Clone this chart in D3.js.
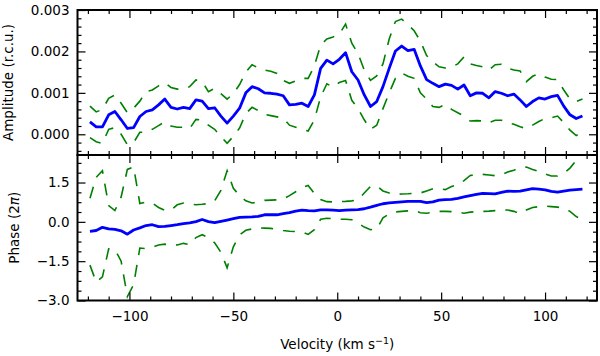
<!DOCTYPE html>
<html>
<head>
<meta charset="utf-8">
<script src="https://cdn.jsdelivr.net/npm/d3@7"></script>
<style>
  body { margin: 0; background: #fff; }
  svg text { font-family: "DejaVu Sans", sans-serif; fill: #000; }
</style>
</head>
<body>
<script>
// velocity grid (km/s)
var velocity = [
  -119,-116,-113,-110,-107,-104,-101,-98,-95,-92,
  -89,-86,-83,-80,-77,-74,-71,-68,-65,-62,
  -59,-56,-53,-50,-47,-44,-41,-38,-35,-32,
  -29,-26,-23,-20,-17,-14,-11,-8,-5,-2,
  1,4,7,10,13,16,19,22,25,28,
  31,34,37,40,43,46,49,52,55,58,
  61,64,67,70,73,76,79,82,85,88,
  91,94,97,100,103,106,109,112,115,118
];

// amplitude, in units of 0.001 r.c.u.
var amplitude = [
  0.30,0.18,0.18,0.47,0.55,0.35,0.14,0.16,0.43,0.55,
  0.59,0.71,0.85,0.65,0.61,0.65,0.62,0.83,0.80,0.62,
  0.64,0.44,0.27,0.44,0.63,1.00,1.15,1.10,1.00,0.99,
  0.97,0.93,0.71,0.72,0.75,0.67,0.95,1.59,1.79,1.70,
  1.81,1.97,1.51,1.31,0.95,0.67,0.79,1.15,1.59,2.01,
  2.13,2.02,2.05,1.65,1.32,1.23,1.15,1.21,1.18,1.09,
  1.19,0.93,1.00,0.99,0.88,1.03,0.99,0.93,0.97,0.83,
  0.67,0.79,0.88,0.85,0.91,0.94,0.68,0.47,0.38,0.44
];
var amplitudeHi = [
  0.68,0.54,0.60,0.87,0.95,0.75,0.52,0.63,0.80,1.03,
  1.07,1.17,1.25,1.13,1.09,1.10,1.15,1.31,1.27,1.03,
  1.11,0.98,0.85,0.98,1.20,1.50,1.68,1.60,1.55,1.52,
  1.47,1.30,1.23,1.29,1.35,1.35,1.65,2.15,2.30,2.35,
  2.42,2.66,2.20,1.95,1.55,1.30,1.41,1.70,2.30,2.72,
  2.78,2.65,2.50,2.25,1.90,1.75,1.63,1.60,1.62,1.70,
  1.87,1.70,1.66,1.63,1.55,1.68,1.69,1.60,1.55,1.53,
  1.27,1.40,1.46,1.38,1.33,1.32,1.07,0.85,0.79,0.85
];
var amplitudeLo = [
  -0.08,-0.18,-0.22,0.12,0.16,0.00,-0.25,-0.20,0.05,0.05,
  0.12,0.21,0.30,0.20,0.17,0.17,0.14,0.36,0.34,0.22,
  0.12,-0.05,-0.22,-0.05,0.15,0.50,0.65,0.57,0.48,0.45,
  0.42,0.39,0.22,0.17,0.12,0.08,0.35,0.90,1.22,1.14,
  1.25,1.30,0.82,0.62,0.35,0.12,0.22,0.62,1.00,1.35,
  1.48,1.40,1.35,1.00,0.85,0.67,0.65,0.72,0.60,0.52,
  0.44,0.32,0.33,0.32,0.28,0.34,0.34,0.29,0.24,0.18,
  0.14,0.22,0.31,0.38,0.40,0.44,0.28,0.10,-0.03,0.04
];

// phase, in units of 2 pi
var phase = [
  -0.36,-0.33,-0.21,-0.27,-0.29,-0.34,-0.47,-0.31,-0.23,-0.14,
  -0.11,-0.18,-0.17,-0.14,-0.11,-0.07,-0.04,0.01,0.09,0.01,
  -0.03,0.02,0.07,0.12,0.17,0.18,0.19,0.21,0.27,0.27,
  0.27,0.31,0.35,0.41,0.45,0.43,0.42,0.46,0.46,0.45,
  0.43,0.45,0.46,0.47,0.50,0.56,0.63,0.69,0.72,0.74,
  0.76,0.78,0.78,0.78,0.73,0.76,0.83,0.85,0.86,0.90,
  0.95,1.00,1.05,1.09,1.08,1.07,1.12,1.17,1.16,1.17,
  1.22,1.27,1.25,1.22,1.16,1.13,1.17,1.21,1.23,1.25
];
var phaseHi = [
  0.90,1.70,1.95,0.62,0.43,0.95,2.00,2.10,0.70,0.75,
  0.72,0.55,0.44,0.45,0.65,0.72,0.68,0.65,0.67,0.70,
  0.80,1.20,1.95,1.28,1.00,0.80,0.72,0.75,0.82,0.83,
  0.84,0.87,1.00,1.15,1.30,1.39,1.08,0.85,0.77,0.76,
  0.77,0.78,0.80,0.84,1.10,1.35,1.38,1.18,1.10,1.05,
  1.06,1.07,1.09,1.10,1.18,1.26,1.26,1.23,1.35,1.42,
  1.57,1.77,1.80,1.81,1.79,1.76,1.80,1.90,1.97,2.06,
  2.09,2.00,1.92,1.83,1.75,1.75,1.85,2.05,2.35,2.70
];
var phaseLo = [
  -1.65,-2.30,-2.10,-1.03,-1.05,-1.50,-2.85,-2.40,-1.00,-1.02,
  -0.97,-0.88,-0.85,-0.90,-0.88,-0.82,-0.87,-0.60,-0.49,-0.60,
  -0.80,-1.16,-1.75,-0.95,-0.50,-0.32,-0.27,-0.23,-0.24,-0.25,
  -0.28,-0.33,-0.36,-0.37,-0.38,-0.48,-0.30,0.10,0.14,0.12,
  0.10,0.10,0.08,-0.05,-0.20,-0.30,-0.27,0.15,0.30,0.38,
  0.40,0.42,0.43,0.35,0.33,0.36,0.40,0.40,0.39,0.37,
  0.33,0.37,0.39,0.40,0.41,0.43,0.45,0.45,0.40,0.31,
  0.45,0.55,0.58,0.60,0.58,0.56,0.53,0.40,0.20,0.10
];

var xTicks = [-100, -50, 0, 50, 100];
var ampTicks = [0, 1, 2, 3];
var phaseTicks = [-3.0, -1.5, 0.0, 1.5];

var width = 600, height = 356;
var left = 77.5, right = 597;
var topA = 10, midY = 155, bottomP = 300.5;

var svg = d3.select("body").append("svg")
    .attr("width", width)
    .attr("height", height);

var x = d3.scaleLinear().domain([-125, 125]).range([left, right]);
var yAmp = d3.scaleLinear().domain([-0.5, 3.0]).range([midY, topA]);
var yPh = d3.scaleLinear().domain([-3.0, 2.55]).range([bottomP, midY]);

var xMinor = d3.range(-120, 121, 10).filter(d => d % 50 !== 0);
var ampMinor = d3.range(-0.4, 3.0, 0.2).filter(d => Math.abs(d - Math.round(d)) > 1e-6);
var phMinor = d3.range(-3.0, 2.55, 0.375).filter(d => Math.abs(d / 1.5 - Math.round(d / 1.5)) > 1e-6);

var minus = s => String(s).replace("-", "\u2212");

function clip(id, y0, y1) {
    svg.append("clipPath").attr("id", id)
        .append("rect")
        .attr("x", left).attr("y", y0)
        .attr("width", right - left).attr("height", y1 - y0);
}
clip("clipA", topA, midY);
clip("clipP", midY, bottomP);

function drawTicks(g, axis) {
    g.call(axis);
    g.select(".domain").remove();
    g.selectAll(".tick line").attr("stroke", "#000").attr("stroke-width", 1.2);
    g.selectAll(".tick text").style("font-size", "13.5px").attr("fill", "#000");
}

function panelAxes(yScale, y0, y1, majors, minors, fmt, showX) {
    // x ticks bottom and top of the panel, pointing inward
    drawTicks(svg.append("g").attr("transform", `translate(0,${y1})`),
        d3.axisBottom(x).tickValues(xTicks).tickSize(-8).tickPadding(11)
            .tickFormat(showX ? (d => minus(d)) : ""));
    drawTicks(svg.append("g").attr("transform", `translate(0,${y1})`),
        d3.axisBottom(x).tickValues(xMinor).tickSize(-4).tickFormat(""));
    drawTicks(svg.append("g").attr("transform", `translate(0,${y0})`),
        d3.axisTop(x).tickValues(xTicks).tickSize(-8).tickFormat(""));
    drawTicks(svg.append("g").attr("transform", `translate(0,${y0})`),
        d3.axisTop(x).tickValues(xMinor).tickSize(-4).tickFormat(""));
    // y ticks left and right
    drawTicks(svg.append("g").attr("transform", `translate(${left},0)`),
        d3.axisLeft(yScale).tickValues(majors).tickSize(-8).tickPadding(8).tickFormat(fmt));
    drawTicks(svg.append("g").attr("transform", `translate(${left},0)`),
        d3.axisLeft(yScale).tickValues(minors).tickSize(-4).tickFormat(""));
    drawTicks(svg.append("g").attr("transform", `translate(${right},0)`),
        d3.axisRight(yScale).tickValues(majors).tickSize(-8).tickFormat(""));
    drawTicks(svg.append("g").attr("transform", `translate(${right},0)`),
        d3.axisRight(yScale).tickValues(minors).tickSize(-4).tickFormat(""));
}

function drawSeries(yScale, clipId, mid, hi, lo) {
    var g = svg.append("g").attr("clip-path", `url(#${clipId})`);
    var line = d3.line()
        .x((d, i) => x(velocity[i]))
        .y(d => yScale(d));
    [hi, lo].forEach(s => {
        g.append("path")
            .attr("d", line(s))
            .attr("fill", "none")
            .attr("stroke", "#008000")
            .attr("stroke-width", 1.6)
            .attr("stroke-dasharray", "12,10");
    });
    g.append("path")
        .attr("d", line(mid))
        .attr("fill", "none")
        .attr("stroke", "#0000ff")
        .attr("stroke-width", 2.8)
        .attr("stroke-linejoin", "round");
}

drawSeries(yAmp, "clipA", amplitude, amplitudeHi, amplitudeLo);
drawSeries(yPh, "clipP", phase, phaseHi, phaseLo);

panelAxes(yAmp, topA, midY, ampTicks, ampMinor, d => (d / 1000).toFixed(3), false);
panelAxes(yPh, midY, bottomP, phaseTicks, phMinor, d => minus(d.toFixed(1)), true);

// frames
[[topA, midY], [midY, bottomP]].forEach(p => {
    svg.append("rect")
        .attr("x", left).attr("y", p[0])
        .attr("width", right - left).attr("height", p[1] - p[0])
        .attr("fill", "none")
        .attr("stroke", "#000")
        .attr("stroke-width", 2);
});

// axis labels
svg.append("text")
    .attr("transform", `translate(12.5,${(topA + midY) / 2}) rotate(-90)`)
    .attr("text-anchor", "middle")
    .style("font-size", "13.5px")
    .text("Amplitude (r.c.u.)");

var phLabel = svg.append("text")
    .attr("transform", `translate(18.5,${(midY + bottomP) / 2}) rotate(-90)`)
    .attr("text-anchor", "middle")
    .style("font-size", "13.5px");
phLabel.append("tspan").text("Phase (2");
phLabel.append("tspan").style("font-style", "italic").text("\u03c0");
phLabel.append("tspan").text(")");

var xLabel = svg.append("text")
    .attr("x", (left + right) / 2)
    .attr("y", 349)
    .attr("text-anchor", "middle")
    .style("font-size", "13.5px");
xLabel.append("tspan").text("Velocity (km s");
xLabel.append("tspan").attr("dy", -5).style("font-size", "9.5px").text("\u22121");
xLabel.append("tspan").attr("dy", 5).text(")");
</script>
</body>
</html>
